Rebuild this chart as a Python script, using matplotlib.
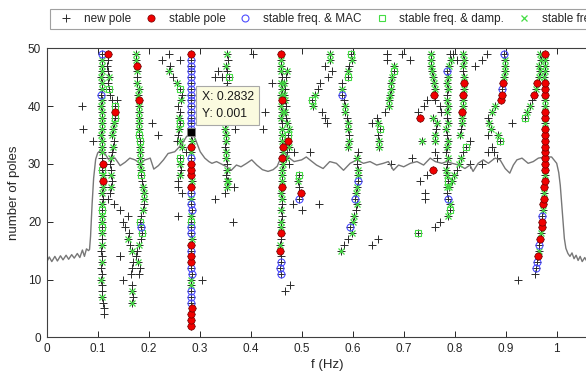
import matplotlib
matplotlib.use('Agg')
import matplotlib.pyplot as plt
from matplotlib.lines import Line2D

plt.rcParams['font.family'] = ['Liberation Sans', 'DejaVu Sans']

# spectrum trace drawn on the pole axis: (f, value)
spectrum = [
    (0.000, 13.0), (0.005, 13.9), (0.010, 13.1), (0.016, 14.0), (0.021, 13.2), (0.027, 14.1),
    (0.032, 13.4), (0.038, 14.2), (0.043, 13.5), (0.049, 14.3), (0.054, 13.7), (0.060, 14.5),
    (0.065, 13.8), (0.070, 15.1), (0.074, 14.0), (0.078, 15.3), (0.082, 15.0), (0.084, 15.2),
    (0.086, 17.5), (0.089, 23.0), (0.092, 27.5), (0.096, 30.8), (0.100, 31.9), (0.106, 32.4),
    (0.114, 31.8), (0.121, 30.8), (0.127, 31.1), (0.134, 31.0), (0.144, 29.7), (0.154, 30.3),
    (0.163, 31.0), (0.173, 30.7), (0.183, 30.1), (0.193, 30.7), (0.203, 31.0), (0.210, 29.1),
    (0.219, 29.7), (0.229, 30.7), (0.238, 31.8), (0.251, 32.1), (0.264, 33.3), (0.274, 34.7),
    (0.2832, 35.5), (0.291, 34.4), (0.301, 32.1), (0.310, 31.0), (0.318, 30.4), (0.324, 30.1),
    (0.333, 30.4), (0.342, 30.0), (0.353, 29.5), (0.362, 28.9), (0.372, 29.8), (0.381, 29.5),
    (0.392, 30.1), (0.402, 30.7), (0.412, 29.8), (0.423, 29.0), (0.434, 28.7), (0.444, 29.0),
    (0.452, 29.6), (0.461, 31.5), (0.467, 32.0), (0.476, 31.0), (0.485, 30.4), (0.500, 30.7),
    (0.509, 31.2), (0.516, 30.7), (0.529, 29.8), (0.542, 29.2), (0.555, 30.4), (0.568, 30.1),
    (0.582, 28.9), (0.595, 30.1), (0.608, 30.7), (0.621, 30.1), (0.634, 30.4), (0.647, 29.8),
    (0.660, 30.1), (0.670, 30.4), (0.680, 28.9), (0.690, 29.8), (0.700, 29.5), (0.713, 30.1),
    (0.726, 30.4), (0.739, 29.8), (0.752, 31.0), (0.762, 30.4), (0.775, 30.1), (0.784, 30.4),
    (0.795, 30.1), (0.808, 29.8), (0.820, 29.2), (0.830, 29.8), (0.836, 28.7), (0.846, 30.1),
    (0.856, 30.7), (0.866, 30.1), (0.879, 31.0), (0.889, 30.7), (0.899, 29.2), (0.908, 28.4),
    (0.915, 29.8), (0.922, 30.7), (0.932, 31.0), (0.944, 30.1), (0.954, 30.4), (0.964, 31.0),
    (0.977, 31.2), (0.990, 31.2), (1.000, 30.1), (1.004, 28.5), (1.007, 26.3), (1.011, 21.7),
    (1.015, 17.1), (1.018, 15.4), (1.022, 14.5), (1.026, 14.0), (1.030, 14.6), (1.034, 13.6),
    (1.038, 14.2), (1.042, 13.3), (1.046, 14.0), (1.050, 13.1), (1.055, 13.8), (1.060, 13.0),
]

# pole columns: first model order, frequency at each following order, status per order
# status: + new pole, o stable pole, m stable freq. & MAC, d stable freq. & damp., v stable freq. & vect.
col_a = (4, [0.112, 0.113, 0.110, 0.109, 0.108, 0.108, 0.107, 0.108, 0.107, 0.108,
             0.108, 0.107, 0.108, 0.108, 0.109, 0.109, 0.108, 0.109, 0.108, 0.109,
             0.110, 0.109, 0.110, 0.111, 0.110, 0.109, 0.110, 0.109, 0.108, 0.108,
             0.108, 0.107, 0.108, 0.108, 0.108, 0.108, 0.107, 0.108, 0.107, 0.108,
             0.108, 0.107, 0.108, 0.108, 0.109, 0.108],
         "+++v++v++v" "++v+vdvvdv" "+vvovdo+vv" "vvvvvvvvmv" "vvvvvm")
col_a2 = (24, [0.121, 0.124, 0.126, 0.128, 0.126, 0.127, 0.125, 0.126, 0.128, 0.130,
               0.131, 0.129, 0.130, 0.132, 0.133, 0.134, 0.133, 0.128, 0.124, 0.122,
               0.121, 0.122, 0.120, 0.119, 0.121, 0.121],
          "++v+v++v+v" "+vvvdod++d" "+v+++o")
col_a3 = (6, [0.167, 0.170, 0.167, 0.168, 0.150, 0.165, 0.167, 0.170, 0.144, 0.167,
              0.163, 0.160, 0.162, 0.153, 0.150, 0.160, 0.144, 0.131],
          "v+v+++++" "+v+v++++++")
col_b = (11, [0.180, 0.183, 0.179, 0.176, 0.178, 0.180, 0.184, 0.186, 0.185, 0.182,
              0.184, 0.188, 0.190, 0.191, 0.190, 0.189, 0.186, 0.185, 0.184, 0.183,
              0.182, 0.183, 0.183, 0.182, 0.180, 0.181, 0.180, 0.181, 0.180, 0.180,
              0.180, 0.179, 0.180, 0.178, 0.178, 0.177, 0.178, 0.176, 0.176],
         "++v++v+dmd" "+v+vvv+dvv" "vvvddvvvvv" "ovvv+vovv")
col_b2 = (26, [0.258, 0.257, 0.261, 0.263, 0.262, 0.261, 0.274, 0.265, 0.261, 0.258,
               0.260, 0.261, 0.259, 0.261, 0.258, 0.263, 0.265, 0.261, 0.255, 0.248,
               0.239, 0.242, 0.261, 0.239],
          "++v+vd+vv+" "vdv++v+dv+" "v+++")
col_c = (2, [0.283, 0.283, 0.283, 0.284, 0.283, 0.283, 0.282, 0.283, 0.283, 0.284,
             0.283, 0.283, 0.283, 0.283, 0.283, 0.284, 0.283, 0.282, 0.283, 0.283,
             0.284, 0.283, 0.283, 0.283, 0.283, 0.284, 0.283, 0.283, 0.283, 0.283,
             0.282, 0.283, 0.284, 0.283, 0.283, 0.283, 0.283, 0.283, 0.283, 0.283,
             0.283, 0.283, 0.283, 0.283, 0.283, 0.283, 0.283, 0.283],
         "oooommmvvm" "moomovmmdv" "mmvmovooom" "vov+mmmmmm" "mmmmmmmo")
col_d = (26, [0.353, 0.355, 0.352, 0.354, 0.353, 0.351, 0.352, 0.350, 0.351, 0.352,
              0.350, 0.351, 0.353, 0.352, 0.350, 0.351, 0.353, 0.352, 0.354, 0.358,
              0.353, 0.351, 0.356, 0.353],
         "vv+v+vv+vv" "v++v+v+v+d" "+v+v")
col_e = (11, [0.459, 0.458, 0.460, 0.459, 0.457, 0.458, 0.459, 0.460, 0.459, 0.460,
              0.461, 0.460, 0.461, 0.461, 0.460, 0.461, 0.462, 0.461, 0.462, 0.463,
              0.462, 0.464, 0.463, 0.462, 0.461, 0.462, 0.461, 0.460, 0.461, 0.460,
              0.461, 0.460, 0.461, 0.460, 0.461, 0.460, 0.459, 0.460, 0.460],
         "mmm+ov+ovv" "+v+vvovvvv" "ovovvv+vvv" "ovvv+vvvo")
col_e1 = (30, [0.476, 0.470, 0.472, 0.475, 0.474, 0.473, 0.476, 0.472, 0.470, 0.468,
               0.470, 0.467, 0.466, 0.468, 0.465, 0.470, 0.472],
          "+v+vodvv+v+vv+v+v")
col_e2 = (22, [0.501, 0.482, 0.495, 0.498, 0.494, 0.493, 0.494], "++mo+vd")
col_f0 = (37, [0.549, 0.545, 0.540, 0.522, 0.521, 0.527, 0.531, 0.535, 0.552, 0.559,
               0.545, 0.556, 0.555],
          "+++vdv+++++vv")
col_f = (33, [0.591, 0.592, 0.592, 0.590, 0.590, 0.588, 0.584, 0.585, 0.582, 0.579,
              0.580, 0.579, 0.590, 0.591, 0.593, 0.598, 0.596],
         "vv+vv+vv+mv+dv+vd")
col_f1 = (15, [0.578, 0.582, 0.591, 0.598, 0.595, 0.600, 0.603, 0.606, 0.609, 0.605,
               0.607, 0.609, 0.611, 0.611, 0.610, 0.608, 0.609, 0.611],
          "v++vmvv+vmvvmvv+v+")
col_g = (39, [0.664, 0.671, 0.672, 0.673, 0.675, 0.676, 0.678, 0.680, 0.681, 0.668, 0.667],
         "+vvvvvvdv++")
col_g2 = (33, [0.651, 0.651, 0.650, 0.653, 0.649, 0.647], "vv+dv+")
col_h1 = (34, [0.761, 0.762, 0.763, 0.765, 0.758, 0.774, 0.772, 0.762, 0.759, 0.762,
               0.760, 0.757, 0.756, 0.753, 0.754, 0.754],
          "vv+vv+++ovvvvvvv")
col_h = (21, [0.787, 0.791, 0.790, 0.786, 0.785, 0.784, 0.787, 0.784, 0.782, 0.784,
              0.786, 0.783, 0.785, 0.786, 0.784, 0.783, 0.786, 0.785, 0.784, 0.786,
              0.784, 0.785, 0.787, 0.784, 0.786, 0.785, 0.788, 0.792, 0.790],
         "vdvm+vdvv+" "v+vv+vv+vv" "v+vvvmvv+")
col_i2 = (26, [0.789, 0.794, 0.799, 0.804, 0.808, 0.812, 0.817, 0.823, 0.830], "vvv+vv+d+")
col_i = (35, [0.810, 0.812, 0.814, 0.815, 0.815, 0.816, 0.817, 0.817, 0.818, 0.819,
              0.818, 0.817, 0.816, 0.818, 0.817],
         "v+vvovvovov+vvv")
col_j = (35, [0.866, 0.871, 0.868, 0.866, 0.873, 0.879, 0.891, 0.893, 0.893, 0.895,
              0.897, 0.898, 0.898, 0.899, 0.897],
         "+vv+vvoomovvvvm")
col_j2 = (31, [0.882, 0.878, 0.873, 0.889, 0.884], "+++dv")
col_k2 = (38, [0.937, 0.941, 0.948, 0.952, 0.956, 0.959, 0.961, 0.965, 0.968, 0.966,
               0.970, 0.968],
          "dvv+ovovvvvv")
col_k = (11, [0.957, 0.960, 0.962, 0.963, 0.965, 0.966, 0.968, 0.969, 0.971, 0.972,
              0.972, 0.973, 0.974, 0.975, 0.975, 0.976, 0.977, 0.977, 0.977, 0.977,
              0.977, 0.977, 0.977, 0.977, 0.977, 0.977, 0.977, 0.977, 0.977, 0.977,
              0.977, 0.977, 0.977, 0.977, 0.976, 0.977, 0.977, 0.977, 0.978],
         "+mmovmovoo" "mvoovoovoo" "oooooovoov" "vooovvvvo")

# scattered poles
loose_f = [0.069, 0.072, 0.091, 0.137, 0.144, 0.206, 0.219, 0.226, 0.255, 0.258,
           0.266, 0.304, 0.330, 0.350, 0.366, 0.367, 0.353, 0.369, 0.330, 0.343,
           0.336, 0.405, 0.441, 0.428, 0.425, 0.477, 0.467, 0.484, 0.516, 0.533,
           0.637, 0.650, 0.637, 0.667, 0.696, 0.712, 0.676, 0.716, 0.729, 0.739,
           0.745, 0.731, 0.735, 0.745, 0.732, 0.742, 0.742, 0.758, 0.729, 0.761,
           0.771, 0.761, 0.765, 0.840, 0.853, 0.863, 0.912, 0.866, 0.853, 0.830,
           0.925, 0.797, 0.805]
loose_n = [40, 36, 34, 41, 14, 37, 35, 48, 34, 21,
           25, 10, 24, 25, 20, 26, 27, 36, 45, 45,
           46, 49, 44, 39, 36, 9, 8, 32, 32, 23,
           16, 17, 37, 49, 49, 48, 30, 31, 39, 40,
           41, 38, 34, 28, 27, 25, 24, 29, 18, 19,
           20, 32, 31, 47, 48, 49, 37, 32, 30, 30,
           10, 49, 48]
loose_s = "++++++++++" "++++++v+++" "++++++++++" "++++++++++" "+ov++++od+" "++++++++++" "+++"

columns = [col_a, col_a2, col_a3, col_b, col_b2, col_c, col_d, col_e, col_e1, col_e2,
           col_f0, col_f, col_f1, col_g, col_g2, col_h1, col_h, col_i2, col_i, col_j,
           col_j2, col_k2, col_k]

pole_f, pole_n, pole_s = [], [], []
for n0, freqs, codes in columns:
    for k, (f, s) in enumerate(zip(freqs, codes)):
        pole_f.append(f)
        pole_n.append(n0 + k)
        pole_s.append(s)
for f, n, s in zip(loose_f, loose_n, loose_s):
    pole_f.append(f)
    pole_n.append(n)
    pole_s.append(s)


def pick(code):
    return ([f for f, s in zip(pole_f, pole_s) if s == code],
            [n for n, s in zip(pole_n, pole_s) if s == code])


fig = plt.figure(figsize=(5.86, 3.80), dpi=100)
ax = fig.add_axes([46.7 / 586, 42.7 / 380, 561 / 586, 289 / 380])

c_new = '#2b2b2b'
c_red = '#f00000'
c_blue = '#4d4dff'
c_green = '#44dd44'

ax.plot(pole_f, pole_n, ls='none', marker='+', ms=5.5, mew=0.7, color=c_new, zorder=2)
sx, sy = zip(*spectrum)
ax.plot(sx, sy, color='#777777', lw=1.0, zorder=2.5)
fx, fy = pick('d')
ax.plot(fx, fy, ls='none', marker='s', ms=4.2, mfc='none', mec=c_green, mew=0.8, zorder=3)
fx, fy = pick('v')
ax.plot(fx, fy, ls='none', marker='x', ms=3.8, mec=c_green, mew=0.9, zorder=3)
fx, fy = pick('m')
ax.plot(fx, fy, ls='none', marker='o', ms=5, mfc='none', mec=c_blue, mew=0.8, zorder=3.5)
fx, fy = pick('o')
ax.plot(fx, fy, ls='none', marker='o', ms=5.2, mfc=c_red, mec='#700000', mew=0.5, zorder=4)

# data tip
ax.plot([0.2832], [35.5], ls='none', marker='s', ms=5.5, mfc='black', mec='#888888', mew=0.6, zorder=6)
ax.text(0.304, 40.1, 'X: 0.2832\nY: 0.001', fontsize=8.8, color='#1a1a1a', ha='left', va='center',
        linespacing=1.45, zorder=7,
        bbox=dict(boxstyle='square,pad=0.45', fc='#fbfbdf', ec='#a8a8a8', lw=0.8))

ax.set_xlim(0, 1.1)
ax.set_ylim(0, 50)
ax.set_xticks([0, 0.1, 0.2, 0.3, 0.4, 0.5, 0.6, 0.7, 0.8, 0.9, 1.0])
ax.set_xticklabels(['0', '0.1', '0.2', '0.3', '0.4', '0.5', '0.6', '0.7', '0.8', '0.9', '1'])
ax.set_yticks([0, 10, 20, 30, 40, 50])
ax.tick_params(direction='in', top=True, right=True, length=4, width=0.7,
               labelsize=8.5, colors='#262626', pad=4)
for sp in ax.spines.values():
    sp.set_color('#404040')
    sp.set_linewidth(0.8)
ax.set_xlabel('f (Hz)', fontsize=9.5, color='#262626', labelpad=3)
ax.set_ylabel('number of poles', fontsize=9.5, color='#262626', labelpad=6)

handles = [
    Line2D([], [], ls='none', marker='+', ms=5.5, mew=0.7, color=c_new),
    Line2D([], [], ls='none', marker='o', ms=5.2, mfc=c_red, mec='#700000', mew=0.5),
    Line2D([], [], ls='none', marker='o', ms=5, mfc='none', mec=c_blue, mew=0.8),
    Line2D([], [], ls='none', marker='s', ms=4.2, mfc='none', mec=c_green, mew=0.8),
    Line2D([], [], ls='none', marker='x', ms=3.8, mec=c_green, mew=0.9),
]
labels = ['new pole', 'stable pole', 'stable freq. & MAC', 'stable freq. & damp.',
          'stable freq. & vect.']
leg = fig.legend(handles, labels, loc='upper left', bbox_to_anchor=(50 / 586, 1 - 9 / 380),
                 ncol=5, fontsize=8.5, frameon=True, fancybox=False, framealpha=1,
                 edgecolor='#a0a0a0', handlelength=2.0, handletextpad=0.5,
                 columnspacing=0.7, borderpad=0.35, borderaxespad=0)
leg.get_frame().set_linewidth(0.8)
for t in leg.get_texts():
    t.set_color('#262626')

fig.savefig('out.png', dpi=100)
